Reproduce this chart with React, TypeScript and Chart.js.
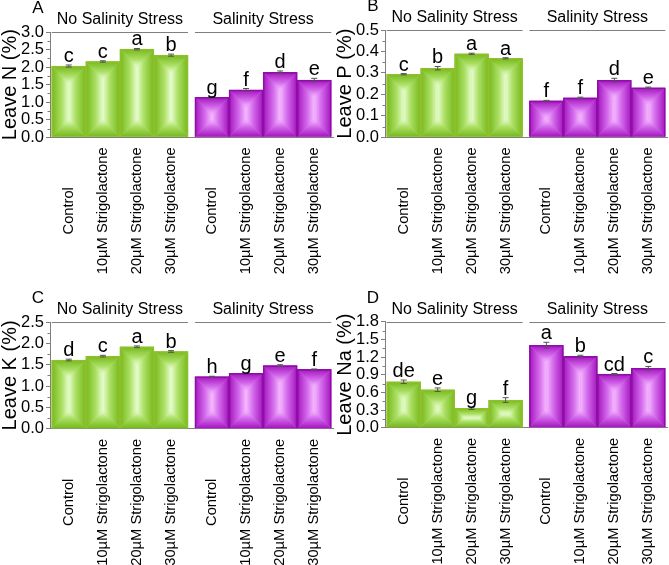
import React, { useEffect, useRef } from 'react';
import { Chart, registerables } from 'chart.js';
Chart.register(...registerables);

const FONT = "'Liberation Sans', Arial, Helvetica, sans-serif";

// ---------- data ----------
const categories = [
  'Control', '10µM Strigolactone', '20µM Strigolactone', '30µM Strigolactone',
  'Control', '10µM Strigolactone', '20µM Strigolactone', '30µM Strigolactone',
];
const groupLabels = ['No Salinity Stress', 'Salinity Stress'];

const leaveN = [2.03, 2.16, 2.51, 2.34, 1.14, 1.35, 1.85, 1.63];
const leaveNErr = [0.03, 0.02, 0.02, 0.03, 0.02, 0.04, 0.04, 0.05];
const leaveNLetters = ['c', 'c', 'a', 'b', 'g', 'f', 'd', 'e'];
const leaveNTicks = [0, 0.5, 1.0, 1.5, 2.0, 2.5, 3.0];

const leaveP = [0.294, 0.322, 0.389, 0.368, 0.170, 0.184, 0.266, 0.231];
const leavePErr = [0.003, 0.008, 0.003, 0.003, 0.002, 0.003, 0.009, 0.003];
const leavePLetters = ['c', 'b', 'a', 'a', 'f', 'f', 'd', 'e'];
const leavePTicks = [0, 0.1, 0.2, 0.3, 0.4, 0.5];

const leaveK = [1.61, 1.70, 1.92, 1.81, 1.22, 1.30, 1.48, 1.39];
const leaveKErr = [0.02, 0.02, 0.02, 0.02, 0.01, 0.01, 0.02, 0.01];
const leaveKLetters = ['d', 'c', 'a', 'b', 'h', 'g', 'e', 'f'];
const leaveKTicks = [0, 0.5, 1.0, 1.5, 2.0, 2.5];

const leaveNa = [0.78, 0.645, 0.33, 0.47, 1.40, 1.21, 0.91, 1.01];
const leaveNaErr = [0.03, 0.03, 0.02, 0.04, 0.05, 0.02, 0.01, 0.03];
const leaveNaLetters = ['de', 'e', 'g', 'f', 'a', 'b', 'cd', 'c'];
const leaveNaTicks = [0, 0.3, 0.6, 0.9, 1.2, 1.5, 1.8];

// ---------- styling ----------
const GREEN = { edge: '#76b81a', mid: '#ace066', center: '#e8fdd0', border: '#8fbf2a' };
const PURPLE = { edge: '#a514bf', mid: '#d46cec', center: '#f6baff', border: '#8e0fa6' };
const GAP = 0.2;
const X_MIN = -0.55;
const X_MAX = 7.5 + GAP + 0.05;

const panels = [
  { letter: 'A', title: 'Leave N (%)', values: leaveN, errors: leaveNErr, letters: leaveNLetters, ticks: leaveNTicks,
    left: 0, top: 0, w: 335, h: 290, areaTop: 32, areaBottom: 137.3, areaRight: 333 },
  { letter: 'B', title: 'Leave P (%)', values: leaveP, errors: leavePErr, letters: leavePLetters, ticks: leavePTicks,
    left: 335, top: 0, w: 334, h: 290, areaTop: 30, areaBottom: 137.3, areaRight: 332 },
  { letter: 'C', title: 'Leave K (%)', values: leaveK, errors: leaveKErr, letters: leaveKLetters, ticks: leaveKTicks,
    left: 0, top: 290, w: 335, h: 275, areaTop: 32, areaBottom: 138.8, areaRight: 333 },
  { letter: 'D', title: 'Leave Na (%)', values: leaveNa, errors: leaveNaErr, letters: leaveNaLetters, ticks: leaveNaTicks,
    left: 335, top: 290, w: 334, h: 275, areaTop: 31.7, areaBottom: 137.7, areaRight: 332 },
];

function positions(n: number) {
  const out: number[] = [];
  for (let i = 0; i < n; i++) out.push(i + (i >= 4 ? GAP : 0));
  return out;
}

function boxGradient(ctx: CanvasRenderingContext2D, L: number, T: number, R: number, B: number, c: any) {
  const w = R - L, h = B - T;
  if (w <= 0 || h <= 0) return;
  const m = Math.min(w, h) / 2;
  ctx.save();
  ctx.fillStyle = c.mid;
  ctx.fillRect(L, T, w, h);
  const mk = (x0: number, y0: number, x1: number, y1: number) => {
    const g = ctx.createLinearGradient(x0, y0, x1, y1);
    g.addColorStop(0, c.edge);
    g.addColorStop(0.6, c.mid);
    g.addColorStop(1, c.center);
    return g;
  };
  const poly = (pts: number[][], fill: any) => {
    ctx.beginPath();
    ctx.moveTo(pts[0][0], pts[0][1]);
    for (let i = 1; i < pts.length; i++) ctx.lineTo(pts[i][0], pts[i][1]);
    ctx.closePath();
    ctx.fillStyle = fill;
    ctx.fill();
  };
  poly([[L, T], [R, T], [R - m, T + m], [L + m, T + m]], mk(0, T, 0, T + m));
  poly([[L, B], [R, B], [R - m, B - m], [L + m, B - m]], mk(0, B, 0, B - m));
  poly([[L, T], [L + m, T + m], [L + m, B - m], [L, B]], mk(L, 0, L + m, 0));
  poly([[R, T], [R - m, T + m], [R - m, B - m], [R, B]], mk(R, 0, R - m, 0));
  ctx.restore();
}

function makePlugin(p: any) {
  return {
    id: 'decor' + p.letter,
    beforeDatasetsDraw(chart: any) {
      const ctx = chart.ctx;
      const meta = chart.getDatasetMeta(0);
      meta.data.forEach((bar: any, i: number) => {
        const { x, y, base, width } = bar.getProps(['x', 'y', 'base', 'width'], true);
        boxGradient(ctx, x - width / 2, Math.min(y, base), x + width / 2, Math.max(y, base), i < 4 ? GREEN : PURPLE);
      });
    },
    afterDatasetsDraw(chart: any) {
      const ctx = chart.ctx;
      const ys = chart.scales.y;
      const meta = chart.getDatasetMeta(0);
      ctx.save();
      meta.data.forEach((bar: any, i: number) => {
        const { x } = bar.getProps(['x'], true);
        const v = p.values[i], e = p.errors[i];
        const yt = ys.getPixelForValue(v + e);
        const yb = ys.getPixelForValue(v - e);
        ctx.strokeStyle = '#555555';
        ctx.lineWidth = 1;
        ctx.beginPath();
        ctx.moveTo(x, yt); ctx.lineTo(x, yb);
        ctx.moveTo(x - 3, yt); ctx.lineTo(x + 3, yt);
        ctx.moveTo(x - 3, yb); ctx.lineTo(x + 3, yb);
        ctx.stroke();
        ctx.fillStyle = '#000';
        ctx.font = `20px ${FONT}`;
        ctx.textAlign = 'center';
        ctx.textBaseline = 'alphabetic';
        ctx.fillText(p.letters[i], x, yt - 3);
      });
      ctx.restore();
    },
    afterDraw(chart: any) {
      const ctx = chart.ctx;
      const area = chart.chartArea;
      const ys = chart.scales.y;
      const meta = chart.getDatasetMeta(0);
      ctx.save();
      // minor ticks
      ctx.strokeStyle = '#7f7f7f';
      ctx.lineWidth = 1;
      ctx.beginPath();
      for (let k = 0; k < p.ticks.length - 1; k++) {
        const py = Math.round(ys.getPixelForValue((p.ticks[k] + p.ticks[k + 1]) / 2)) + 0.5;
        ctx.moveTo(area.left - 2.5, py); ctx.lineTo(area.left, py);
      }
      ctx.stroke();
      // group headers
      for (let g = 0; g < 2; g++) {
        const b0 = meta.data[g * 4].getProps(['x', 'width'], true);
        const b3 = meta.data[g * 4 + 3].getProps(['x', 'width'], true);
        const L = b0.x - b0.width / 2, R = b3.x + b3.width / 2;
        ctx.strokeStyle = '#7f7f7f';
        ctx.beginPath();
        ctx.moveTo(L, Math.round(area.top) + 0.5); ctx.lineTo(R, Math.round(area.top) + 0.5);
        ctx.stroke();
        ctx.fillStyle = '#000';
        ctx.font = `16px ${FONT}`;
        ctx.textAlign = 'center';
        ctx.textBaseline = 'alphabetic';
        ctx.fillText(groupLabels[g], (L + R) / 2, area.top - 8);
      }
      // panel letter
      ctx.font = `17px ${FONT}`;
      ctx.textAlign = 'center';
      ctx.fillText(p.letter, 38, area.top - 19);
      // category labels (rotated, centred)
      ctx.font = `14.7px ${FONT}`;
      meta.data.forEach((bar: any, i: number) => {
        const { x } = bar.getProps(['x'], true);
        ctx.save();
        ctx.translate(x, area.bottom + 73.5);
        ctx.rotate(-Math.PI / 2);
        ctx.textAlign = 'center';
        ctx.textBaseline = 'middle';
        ctx.fillText(categories[i], 0, 0);
        ctx.restore();
      });
      ctx.restore();
    },
  };
}

function buildConfig(p: any): any {
  const xs = positions(p.values.length);
  return {
    type: 'bar',
    data: {
      datasets: [{
        data: xs.map((x, i) => ({ x, y: p.values[i] })),
        backgroundColor: 'rgba(0,0,0,0)',
        borderColor: xs.map((_, i) => (i < 4 ? GREEN.border : PURPLE.border)),
        borderWidth: 1,
        borderSkipped: 'start',
        barPercentage: 1,
        categoryPercentage: 1,
      }],
    },
    options: {
      responsive: false,
      animation: false,
      events: [],
      layout: { padding: { top: p.areaTop, left: 0, right: p.w - p.areaRight, bottom: 0 } },
      plugins: { legend: { display: false }, title: { display: false }, tooltip: { enabled: false } },
      scales: {
        x: {
          type: 'linear',
          min: X_MIN,
          max: X_MAX,
          offset: false,
          grid: { display: false },
          border: { display: true, color: '#7f7f7f', width: 1 },
          ticks: { display: false },
          afterBuildTicks: (s: any) => { s.ticks = xs.map((v) => ({ value: v })); },
          afterFit: (s: any) => { s.height = p.h - p.areaBottom; },
        },
        y: {
          min: p.ticks[0],
          max: p.ticks[p.ticks.length - 1],
          grid: { display: true, drawOnChartArea: false, drawTicks: true, tickLength: 4, color: '#7f7f7f' },
          border: { display: true, color: '#7f7f7f', width: 1 },
          ticks: {
            color: '#000',
            padding: 2,
            autoSkip: false,
            font: { family: FONT, size: 16.5 },
            callback: (v: any) => Number(v).toFixed(1),
          },
          afterBuildTicks: (s: any) => { s.ticks = p.ticks.map((v: number) => ({ value: v })); },
          afterFit: (s: any) => { s.width = 50; },
          title: {
            display: true,
            text: p.title,
            color: '#000',
            padding: 0,
            font: { family: FONT, size: 20, lineHeight: 1 },
          },
        },
      },
    },
    plugins: [makePlugin(p)],
  };
}

function Panel({ cfg }: { cfg: any }) {
  const ref = useRef<HTMLCanvasElement>(null);
  useEffect(() => {
    const chart = new Chart(ref.current as HTMLCanvasElement, buildConfig(cfg));
    return () => chart.destroy();
  }, [cfg]);
  return (
    <canvas
      ref={ref}
      width={cfg.w}
      height={cfg.h}
      style={{ position: 'absolute', left: cfg.left, top: cfg.top, width: cfg.w, height: cfg.h }}
    />
  );
}

export default function App() {
  return (
    <div style={{ position: 'absolute', left: 0, top: 0, width: 669, height: 565, overflow: 'hidden', background: '#fff' }}>
      {panels.map((p) => <Panel key={p.letter} cfg={p} />)}
    </div>
  );
}
